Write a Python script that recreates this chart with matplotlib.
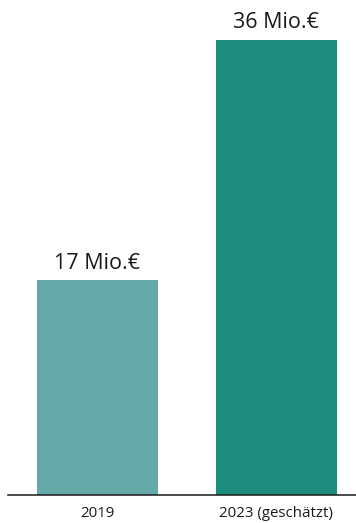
import matplotlib
matplotlib.use("Agg")
import matplotlib.pyplot as plt

categories = ["2019", "2023 (geschätzt)"]
values = [17, 36]
value_labels = ["17 Mio.€", "36 Mio.€"]
colors = ["#64a8a8", "#1e8c7c"]

plt.rcParams["font.family"] = ["Open Sans", "DejaVu Sans"]

W, H = 356, 523
fig = plt.figure(figsize=(W / 100, H / 100), dpi=100)

# axes spans from the baseline up to the top edge, line runs to the right edge
left_px, right_px, base_px = 8, 356, 495
ax = fig.add_axes([left_px / W, (H - base_px) / H, (right_px - left_px) / W, base_px / H])

spacing = 179.3
xs = [0, 1]
ax.bar(xs, values, width=121 / spacing, color=colors)

px_per_unit = 215 / 17
ax.set_ylim(0, base_px / px_per_unit)
ax.set_xlim(-(97 - left_px) / spacing, 1 + (right_px - 276.3) / spacing)

for x, v, lab in zip(xs, values, value_labels):
    ax.annotate(lab, (x, v), xytext=(0, 4.5), textcoords="offset points",
                ha="center", va="bottom", fontsize=15.5, color="#1a1a1a")

for s in ["top", "right", "left"]:
    ax.spines[s].set_visible(False)
ax.spines["bottom"].set_color("#1a1a1a")
ax.spines["bottom"].set_linewidth(1.1)
ax.set_yticks([])
ax.set_xticks(xs)
ax.set_xticklabels(categories, fontsize=10.8, color="#1a1a1a")
ax.tick_params(axis="x", length=0, pad=8)

fig.savefig("out.png", dpi=100)
